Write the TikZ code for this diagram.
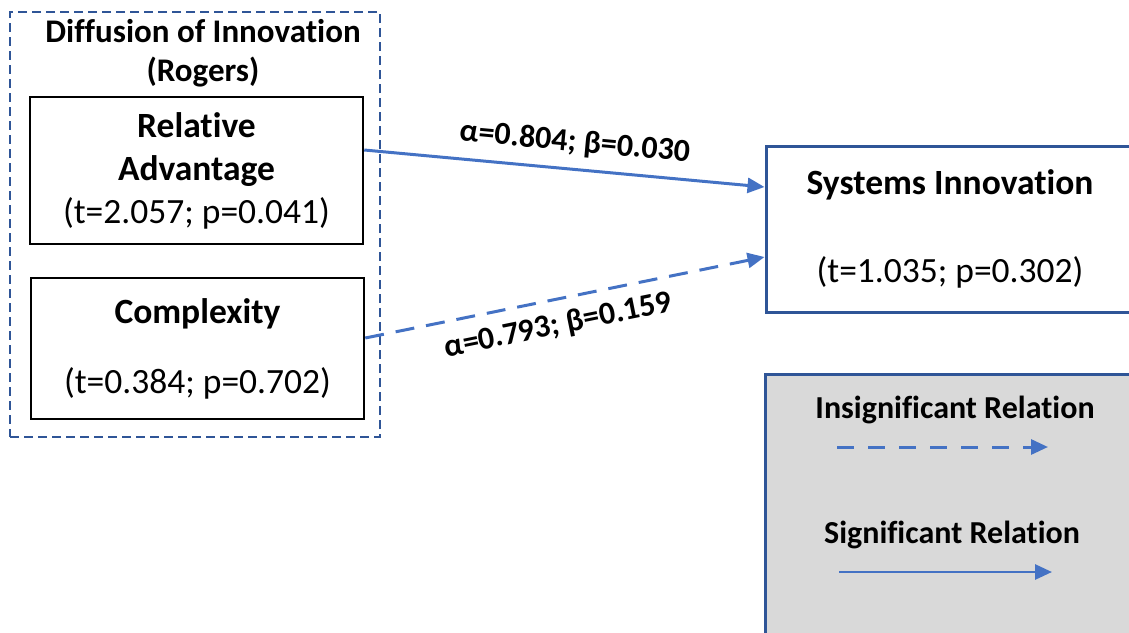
\documentclass[tikz,border=0pt]{standalone}
\usepackage{fontspec}
\setmainfont{Carlito}[Ligatures=NoCommon]
\usetikzlibrary{arrows.meta}
\definecolor{relblue}{HTML}{4472C4}
\definecolor{frameblue}{HTML}{2F5597}
\definecolor{legendgray}{HTML}{D9D9D9}

\begin{document}
\begin{tikzpicture}[x=1pt, y=-1pt,
    factor/.style={draw, line width=2.5pt, minimum width=333pt, inner sep=0pt, align=center, font=\fontsize{35.5}{43}\selectfont},
    relarrow/.style={draw=relblue, line width=3pt, -{Triangle[length=17pt, width=15pt]}},
    insig/.style={relarrow, dash pattern=on 19pt off 12pt},
    coeff/.style={font=\bfseries\fontsize{32}{38}\selectfont, sloped},
    legendtext/.style={font=\bfseries\fontsize{32}{38}\selectfont}]
  \useasboundingbox (0,0) rectangle (1129,632);

  % diffusion of innovation frame
  \node[draw=frameblue, line width=2.3pt, dash pattern=on 9pt off 5pt, minimum width=370pt, minimum height=425pt] (doi) at (195,224.5) {};
  \node[font=\bfseries\fontsize{33}{39}\selectfont, align=center] (doititle) at (203,53) {Diffusion of Innovation\\(Rogers)};
  \node[factor, minimum height=147pt] (ra) at (196.5,170.5) {\textbf{Relative}\\\textbf{Advantage}\\(t=2.057; p=0.041)};
  \node[factor, minimum height=141pt] (cx) at (197.5,348.5) {\textbf{Complexity}\\[27pt](t=0.384; p=0.702)};

  % outcome
  \node[draw=frameblue, line width=3pt, minimum width=368pt, minimum height=166pt, align=center, font=\fontsize{35.5}{43}\selectfont] (si) at (950,229) {\textbf{Systems Innovation}\\[45pt](t=1.035; p=0.302)};

  \draw[relarrow] ([yshift=20.5pt]ra.east) -- node[coeff, above=8pt, pos=0.52] (racoeff) {α=0.804; β=0.030} ([yshift=42pt]si.west);
  \draw[insig] ([yshift=10.5pt]cx.east) -- node[coeff, below=8pt, pos=0.47] (cxcoeff) {α=0.793; β=0.159} ([yshift=-28pt]si.west);

  % legend
  \node[draw=frameblue, fill=legendgray, line width=3pt, minimum width=380pt, minimum height=286pt] (legend) at (955,517) {};
  \node[legendtext] (insiglabel) at (955,410) {Insignificant Relation};
  \node[legendtext] (siglabel) at (952,535) {Significant Relation};
  \coordinate (insigstart) at (837,447);
  \coordinate (insigend) at (1048,447);
  \coordinate (sigstart) at (839,572);
  \coordinate (sigend) at (1052,572);
  \draw[relarrow, line width=3pt, dash pattern=on 17pt off 14pt] (insigstart) -- (insigend);
  \draw[relarrow, line width=2.8pt] (sigstart) -- (sigend);
\end{tikzpicture}
\end{document}
